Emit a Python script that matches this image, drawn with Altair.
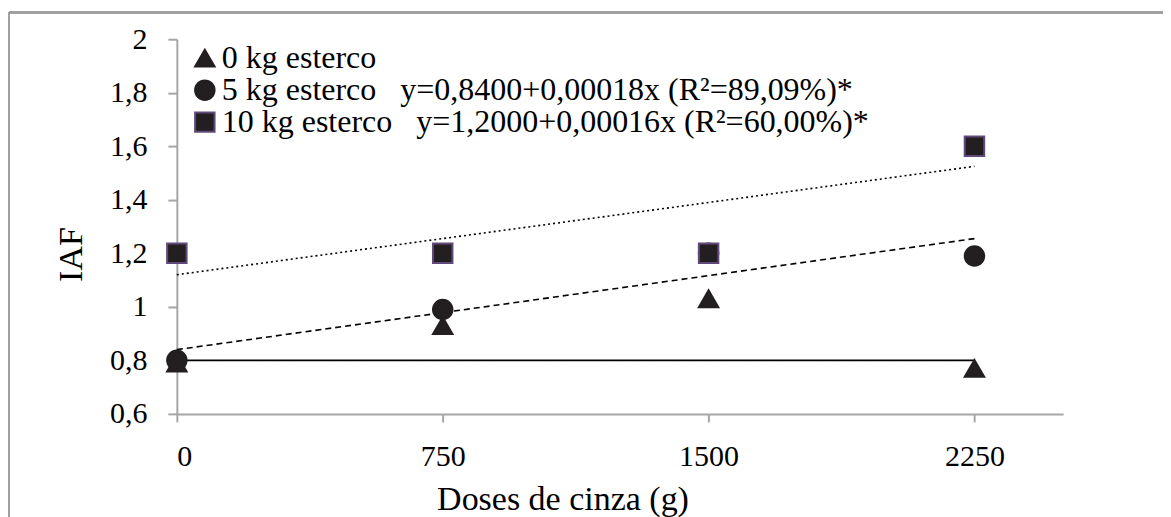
import altair as alt
import pandas as pd

# ---- data ----
doses = [0, 750, 1500, 2250]
iaf_0kg = [0.79, 0.93, 1.03, 0.77]
iaf_5kg = [0.80, 0.99, 1.20, 1.19]
iaf_10kg = [1.20, 1.20, 1.20, 1.60]
series_names = [
    "0 kg esterco",
    "5 kg esterco\u00a0\u00a0 y=0,8400+0,00018x (R²=89,09%)*",
    "10 kg esterco\u00a0\u00a0 y=1,2000+0,00016x (R²=60,00%)*",
]
trend_x = [0, 2250]
trend_0kg = [0.80, 0.80]
trend_5kg = [0.84, 1.255]
trend_10kg = [1.12, 1.525]
x_ticks = [0, 750, 1500, 2250]
y_ticks = [0.6, 0.8, 1.0, 1.2, 1.4, 1.6, 1.8, 2.0]

rows = []
for name, vals in zip(series_names, [iaf_0kg, iaf_5kg, iaf_10kg]):
    for d, v in zip(doses, vals):
        rows.append({"dose": d, "iaf": v, "series": name})
pts = pd.DataFrame(rows)

trows = []
for name, vals in zip(["t0", "t5", "t10"], [trend_0kg, trend_5kg, trend_10kg]):
    for d, v in zip(trend_x, vals):
        trows.append({"dose": d, "iaf": v, "trend": name})
trend = pd.DataFrame(trows)

FONT = "Liberation Serif"
AXIS_GRAY = "#A6A6A6"
DARK = "#231F20"
PURPLE = "#604A7B"

x_scale = alt.Scale(domain=[0, 2500], nice=False, zero=False)
y_scale = alt.Scale(domain=[0.6, 2.0], nice=False, zero=False)

x_axis = alt.Axis(
    values=x_ticks, grid=False, title="Doses de cinza (g)", format="d",
    domainColor=AXIS_GRAY, domainWidth=2, tickColor=AXIS_GRAY, tickWidth=2, tickSize=8,
    labelFont=FONT, labelFontSize=30, labelColor="black", labelPadding=20,
    titleFont=FONT, titleFontSize=34, titleFontWeight="normal", titleColor="black",
    titleX=386, titleY=86, titleBaseline="middle", titleAlign="center",
)
y_axis = alt.Axis(
    values=y_ticks, grid=False, title="IAF",
    labelExpr="replace(format(datum.value, '.1~f'), '.', ',')",
    domainColor=AXIS_GRAY, domainWidth=2, tickColor=AXIS_GRAY, tickWidth=2, tickSize=9,
    labelFont=FONT, labelFontSize=30, labelColor="black", labelPadding=21,
    titleFont=FONT, titleFontSize=34, titleFontWeight="normal", titleColor="black",
    titleX=-105, titleY=215, titleBaseline="middle", titleAlign="center",
)

lines = alt.Chart(trend).mark_line(color="black", strokeWidth=1.6).encode(
    x=alt.X("dose:Q", scale=x_scale, axis=x_axis),
    y=alt.Y("iaf:Q", scale=y_scale, axis=y_axis),
    strokeDash=alt.StrokeDash(
        "trend:N",
        scale=alt.Scale(domain=["t0", "t5", "t10"], range=[[1, 0], [6, 4], [2, 3]]),
        legend=None,
    ),
)

legend = alt.Legend(title=None, orient="none", legendX=12, legendY=3,
                    labelFont=FONT, labelFontSize=32, labelColor="black", labelLimit=0)
points = alt.Chart(pts).mark_point(filled=True, size=380, strokeWidth=2, opacity=1).encode(
    x=alt.X("dose:Q", scale=x_scale),
    y=alt.Y("iaf:Q", scale=y_scale),
    shape=alt.Shape("series:N", scale=alt.Scale(domain=series_names,
                    range=["triangle-up", "circle", "square"]), legend=legend),
    fill=alt.Fill("series:N", scale=alt.Scale(domain=series_names,
                  range=[DARK, DARK, DARK]), legend=legend),
    stroke=alt.Stroke("series:N", scale=alt.Scale(domain=series_names,
                      range=[DARK, DARK, PURPLE]), legend=legend),
    order=alt.Order("idx:Q"),
).transform_window(idx="row_number()")

frame_left = alt.Chart(pts).mark_rule(color="#A0A0A0", strokeWidth=2).encode(
    x=alt.value(-168), y=alt.value(-27), y2=alt.value(700))
frame_top = alt.Chart(pts).mark_rule(color="#A0A0A0", strokeWidth=2).encode(
    x=alt.value(-168), x2=alt.value(1100), y=alt.value(-27))

chart = alt.layer(frame_left, frame_top, lines, points).properties(
    width=887, height=375,
    autosize=alt.AutoSizeParams(type="none"),
    padding={"left": 169, "top": 31, "right": 100, "bottom": 130},
).configure(font=FONT, background="white").configure_view(stroke=None).configure_legend(
    padding=0, labelFont=FONT, labelFontSize=32, labelColor="black", labelLimit=0,
    symbolSize=380, symbolStrokeWidth=2, rowPadding=0, labelOffset=1,
)

chart.save("out.html", embed_options={"renderer": "svg", "actions": False})
